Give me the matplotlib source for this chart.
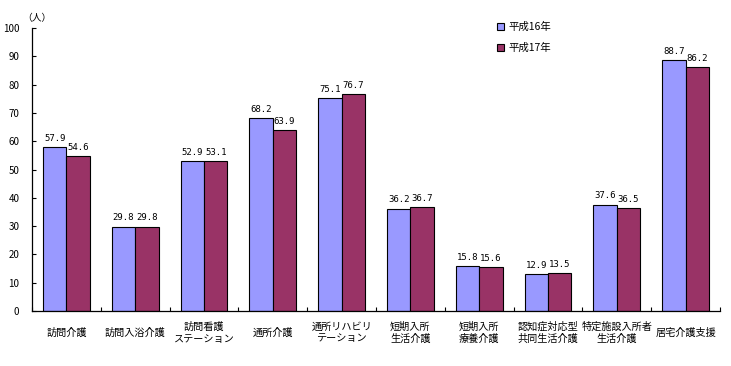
import numpy as np
import matplotlib
matplotlib.use("Agg")
import matplotlib.pyplot as plt

plt.rcParams['font.family'] = ['Noto Sans CJK JP', 'DejaVu Sans']

categories = ["訪問介護", "訪問入浴介護", "訪問看護\nステーション", "通所介護",
              "通所リハビリ\nテーション", "短期入所\n生活介護", "短期入所\n療養介護",
              "認知症対応型\n共同生活介護", "特定施設入所者\n生活介護", "居宅介護支援"]
h16 = [57.9, 29.8, 52.9, 68.2, 75.1, 36.2, 15.8, 12.9, 37.6, 88.7]
h17 = [54.6, 29.8, 53.1, 63.9, 76.7, 36.7, 15.6, 13.5, 36.5, 86.2]
series_names = ["平成16年", "平成17年"]
yticks = list(range(0, 101, 10))

fig = plt.figure(figsize=(7.31, 3.66), dpi=100)
ax = fig.add_axes([32 / 731, 1 - 311 / 366, (720 - 32) / 731, (311 - 28) / 366])

x = np.arange(len(categories))
w = 0.34
b1 = ax.bar(x - w / 2, h16, w, color='#9999FF', edgecolor='black', linewidth=0.8,
            label=series_names[0])
b2 = ax.bar(x + w / 2, h17, w, color='#993366', edgecolor='black', linewidth=0.8,
            label=series_names[1])

for bars, vals in ((b1, h16), (b2, h17)):
    for r, v in zip(bars, vals):
        ax.annotate(f"{v:.1f}", (r.get_x() + r.get_width() / 2, v),
                    xytext=(0, 3), textcoords='offset points',
                    ha='center', va='bottom', fontsize=6.5,
                    family='DejaVu Sans Mono')

ax.set_xlim(-0.5, len(categories) - 0.5)
ax.set_ylim(0, 100)
ax.set_yticks(yticks)
ax.set_yticklabels([str(t) for t in yticks], fontsize=7)
ax.tick_params(axis='y', direction='in', length=3, width=0.8, pad=9)
ax.set_xticks(np.arange(-0.5, len(categories), 1.0))
ax.set_xticklabels([])
ax.tick_params(axis='x', direction='in', length=3, width=0.8)

for s in ('top', 'right'):
    ax.spines[s].set_visible(False)
for s in ('left', 'bottom'):
    ax.spines[s].set_linewidth(0.9)

trans = ax.get_xaxis_transform()
for i, c in enumerate(categories):
    ax.text(i, -21.5 / 283, c, transform=trans, ha='center', va='center',
            fontsize=7.3, linespacing=1.25)

fig.text(22 / 731, 1 - 18 / 366, "（人）", fontsize=7, ha='left', va='center')

ax.legend(loc='upper left', bbox_to_anchor=(497 / 731, 1 - 22 / 366),
          bbox_transform=fig.transFigure, frameon=False, fontsize=7.5,
          handlelength=0.7, handleheight=0.7, handletextpad=0.4,
          labelspacing=1.0, borderpad=0, borderaxespad=0)

fig.savefig("out.png", dpi=100)
